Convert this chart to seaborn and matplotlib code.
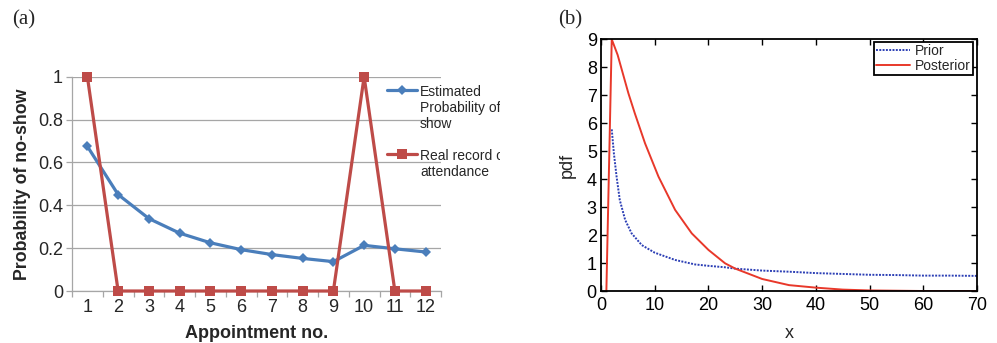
import matplotlib
matplotlib.use("Agg")
import matplotlib.pyplot as plt
import seaborn as sns
import pandas as pd
from matplotlib.ticker import FixedLocator
from matplotlib.transforms import Bbox, TransformedBbox

# ---------------- data ----------------
appointments = list(range(1, 13))
estimated = [0.675, 0.45, 0.338, 0.27, 0.225, 0.193, 0.17, 0.152, 0.137, 0.213, 0.197, 0.182]
real_record = [1, 0, 0, 0, 0, 0, 0, 0, 0, 1, 0, 0]
label_est = "Estimated\nProbability of no-\nshow"
label_real = "Real record of\nattendance"
a_yticks = [0, 0.2, 0.4, 0.6, 0.8, 1]
a_yticklabels = ["0", "0.2", "0.4", "0.6", "0.8", "1"]

prior_x = [2, 2.4, 2.9, 3.5, 4.5, 5.7, 7.6, 10, 13.8, 17.5, 20, 23, 25, 30, 35, 40, 45, 50, 55, 60, 65, 70]
prior_y = [5.78, 4.92, 4.09, 3.25, 2.54, 2.06, 1.64, 1.37, 1.11, 0.95, 0.90, 0.85, 0.80, 0.73, 0.69,
           0.64, 0.61, 0.58, 0.57, 0.55, 0.55, 0.54]
post_x = [1, 2, 3.1, 5.1, 6.3, 8.2, 10.7, 13.8, 16.9, 20, 23.1, 25, 30, 35, 40, 45, 50, 55, 60, 70]
post_y = [0, 9.0, 8.44, 7.07, 6.35, 5.28, 4.09, 2.9, 2.06, 1.47, 0.99, 0.8, 0.43, 0.21, 0.12,
          0.05, 0.02, 0.01, 0.0, 0.0]
b_xticks = [0, 10, 20, 30, 40, 50, 60, 70]
b_yticks = list(range(0, 10))

# ---------------- style ----------------
sns.set_style("white")
plt.rcParams["font.family"] = ["Liberation Sans", "DejaVu Sans"]

W, H = 997, 343
fig = plt.figure(figsize=(W / 100, H / 100), dpi=100)

def fx(px):
    return px / W

def fy(py):
    return 1 - py / H

ax1 = fig.add_axes([fx(72), fy(291), fx(441) - fx(72), fy(76.7) - fy(291)])
ax2 = fig.add_axes([fx(601), fy(291), fx(977) - fx(601), fy(39.3) - fy(291)])

# ---------------- panel (a) ----------------
blue = "#4a7ebb"
red = "#be4b48"
grid_gray = "#a6a6a6"

df_a = pd.DataFrame({"appt": appointments, "est": estimated, "real": real_record})
sns.lineplot(data=df_a, x="appt", y="est", ax=ax1, color=blue, lw=2.3, marker="D",
             markersize=5, markeredgewidth=0, label=label_est, clip_on=False, zorder=3)
sns.lineplot(data=df_a, x="appt", y="real", ax=ax1, color=red, lw=2.3, marker="s",
             markersize=7.5, markeredgewidth=0, label=label_real, clip_on=False, zorder=4)

ax1.set_xlim(0.5, 12.5)
ax1.set_ylim(0, 1)
ax1.yaxis.set_major_locator(FixedLocator(a_yticks))
ax1.set_yticklabels(a_yticklabels)
ax1.set_xticks(appointments)
ax1.set_xticks([a - 0.5 for a in appointments] + [12.5], minor=True)
ax1.grid(axis="y", color=grid_gray, lw=0.9)
ax1.set_axisbelow(True)
for s in ["top", "right"]:
    ax1.spines[s].set_visible(False)
for s in ["left", "bottom"]:
    ax1.spines[s].set_color(grid_gray)
    ax1.spines[s].set_linewidth(0.9)
ax1.tick_params(axis="y", which="major", direction="out", length=4, width=0.9,
                color=grid_gray, labelsize=13, pad=2.5, left=True)
ax1.tick_params(axis="x", which="major", length=0, labelsize=13, pad=6, bottom=True)
ax1.tick_params(axis="x", which="minor", direction="out", length=4, width=0.9,
                color=grid_gray, bottom=True)
ax1.set_xlabel("Appointment no.", fontsize=13, fontweight="bold", labelpad=6.5)
ax1.set_ylabel("Probability of no-show", fontsize=12.8, fontweight="bold", labelpad=5)

leg1 = ax1.legend(loc="upper left", bbox_to_anchor=(fx(387), fy(85)),
                  bbox_transform=fig.transFigure, frameon=False, fontsize=10,
                  handlelength=2.15, handletextpad=0.22, labelspacing=1.27,
                  borderpad=0, borderaxespad=0)
for col in leg1._legend_handle_box.get_children():
    for row in col.get_children():
        row.align = "top"
# the reference panel is cut at x = 500 px, clipping the legend text
clip = TransformedBbox(Bbox([[0, 0], [500 / W, 1]]), fig.transFigure)
for t in leg1.get_texts():
    t.set_clip_box(clip)
    t.set_clip_on(True)

fig.text(fx(12), fy(20), "(a)", family=["Liberation Serif", "DejaVu Serif"],
         fontsize=15, va="center", ha="left")

# ---------------- panel (b) ----------------
prior_color = "#2c3fb5"
post_color = "#e8382a"
sns.lineplot(x=prior_x, y=prior_y, ax=ax2, color=prior_color, lw=1.4,
             linestyle=(0, (1, 0.7)), label="Prior")
sns.lineplot(x=post_x, y=post_y, ax=ax2, color=post_color, lw=1.4, label="Posterior")

ax2.set_xlim(0, 70)
ax2.set_ylim(0, 9)
ax2.set_xticks(b_xticks)
ax2.set_yticks(b_yticks)
for s in ax2.spines.values():
    s.set_visible(True)
    s.set_color("black")
    s.set_linewidth(1.3)
ax2.tick_params(direction="in", length=4, width=1, top=True, right=True,
                bottom=True, left=True, labelsize=13, colors="black")
ax2.tick_params(axis="x", pad=4)
ax2.tick_params(axis="y", pad=3)
ax2.set_xlabel("x", fontsize=13, labelpad=8)
ax2.set_ylabel("pdf", fontsize=13, labelpad=8)
leg2 = ax2.legend(loc="upper right", frameon=True, fancybox=False, edgecolor="black",
                  framealpha=1, fontsize=10, handlelength=2.45, handletextpad=0.36,
                  borderpad=0.12, labelspacing=0.12, borderaxespad=0,
                  bbox_to_anchor=(fx(972.5), fy(42)), bbox_transform=fig.transFigure)
leg2.get_frame().set_linewidth(1.3)

fig.text(fx(558), fy(20), "(b)", family=["Liberation Serif", "DejaVu Serif"],
         fontsize=15, va="center", ha="left")

fig.savefig("out.png", dpi=100)
